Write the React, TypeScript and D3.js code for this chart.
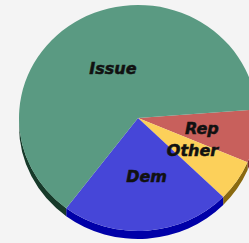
import React from "react";
import * as d3 from "d3";

const categories = ["Rep", "Other", "Dem", "Issue"];
const values = [7.6, 5.9, 23, 63.5];
const topColors = ["#c8605c", "#fcd05a", "#4646d8", "#5a9a82"];
const sideColors = ["#7a2a28", "#8a6a10", "#0000a8", "#173a2a"];

const W = 249;
const H = 243;
const cx = 138;
const cy = 118;
const rx = 119;
const ry = 113;
const depth = 8;
const startDeg = 85.7;

function pt(a: number, dy = 0): [number, number] {
  return [cx + rx * Math.sin(a), cy - ry * Math.cos(a) + dy];
}

export default function App() {
  const pie = d3
    .pie<number>()
    .sort(null)
    .startAngle((startDeg * Math.PI) / 180)
    .endAngle((startDeg * Math.PI) / 180 + 2 * Math.PI);
  const arcs = pie(values);

  const sides = arcs.map((d, i) => {
    const a0 = Math.max(d.startAngle, Math.PI / 2);
    const a1 = Math.min(d.endAngle, (3 * Math.PI) / 2);
    if (a1 <= a0) return null;
    const [x0, y0] = pt(a0);
    const [x1, y1] = pt(a1);
    const [bx0, by0] = pt(a0, depth);
    const [bx1, by1] = pt(a1, depth);
    const p = `M${x0},${y0} A${rx},${ry} 0 0 1 ${x1},${y1} L${bx1},${by1} A${rx},${ry} 0 0 0 ${bx0},${by0} Z`;
    return <path key={"s" + i} d={p} fill={sideColors[i]} />;
  });

  const tops = arcs.map((d, i) => {
    const [x0, y0] = pt(d.startAngle);
    const [x1, y1] = pt(d.endAngle);
    const large = d.endAngle - d.startAngle > Math.PI ? 1 : 0;
    const p = `M${cx},${cy} L${x0},${y0} A${rx},${ry} 0 ${large} 1 ${x1},${y1} Z`;
    return <path key={"t" + i} d={p} fill={topColors[i]} />;
  });

  const labels = arcs.map((d, i) => {
    const m = (d.startAngle + d.endAngle) / 2;
    const x = cx + 0.51 * rx * Math.sin(m) + 4;
    const y = cy - 0.51 * ry * Math.cos(m) + 1;
    return (
      <text
        key={"l" + i}
        x={x}
        y={y}
        textAnchor="middle"
        dominantBaseline="central"
        fontFamily="DejaVu Sans"
        fontWeight="bold"
        fontStyle="italic"
        fontSize={16}
        fill="#111"
        stroke="#111"
        strokeWidth={0.5}
      >
        {categories[i]}
      </text>
    );
  });

  return (
    <svg
      width={W}
      height={H}
      style={{ position: "absolute", left: 0, top: 0 }}
    >
      <rect width={W} height={H} fill="#f4f4f4" />
      {sides}
      {tops}
      {labels}
    </svg>
  );
}
